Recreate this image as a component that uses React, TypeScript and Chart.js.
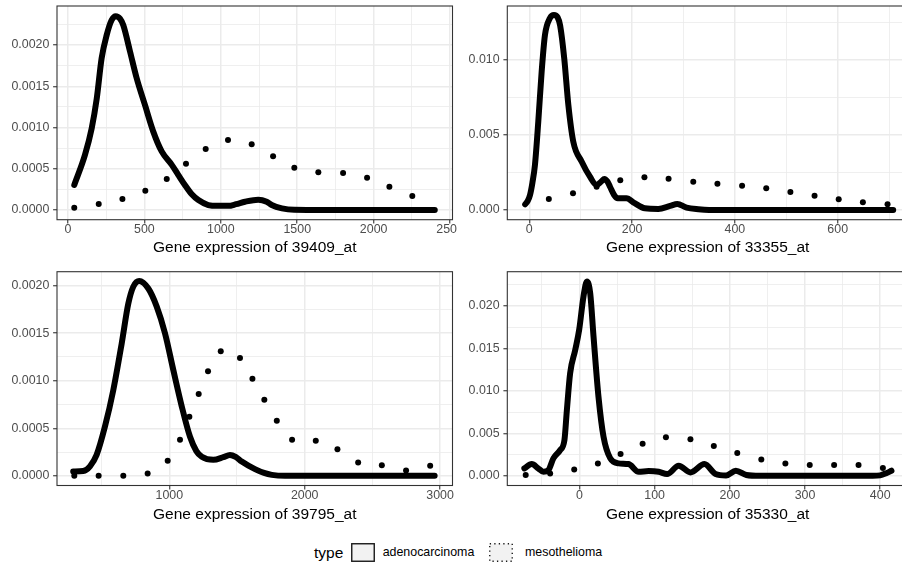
import React, { useEffect, useRef } from 'react';
import { Chart, registerables } from 'chart.js';
Chart.register(...registerables);

const FONT = '"Liberation Sans", Arial, Helvetica, sans-serif';

// ---------- Panel 1: 39409_at ----------
const p1Title = 'Gene expression of 39409_at';
const p1AdenoX = [41, 111, 155, 188, 220, 253, 285, 312, 340, 362, 406, 449, 504, 558, 613, 678, 720, 766, 810, 853, 918, 980, 1049, 1100, 1158, 1245, 1300, 1333, 1400, 1480, 1600, 2000, 2400];
const p1AdenoY = [0.000303, 0.000667, 0.00099, 0.00135, 0.00184, 0.00212, 0.0023, 0.00235, 0.00232, 0.00224, 0.00192, 0.0016, 0.00127, 0.00095, 0.00071, 0.00055, 0.00043, 0.0003, 0.00019, 0.00012, 0.00006, 0.00005, 0.00005, 0.00007, 0.0001, 0.000125, 0.0001, 0.00006, 0.00002, 0.000002, 0, 0, 0];
const p1MesoX = [41, 201, 356, 506, 646, 772, 901, 1047, 1202, 1342, 1481, 1638, 1800, 1957, 2103, 2253];
const p1MesoY = [0.000028, 0.000073, 0.000133, 0.000234, 0.000376, 0.000562, 0.00074, 0.000848, 0.000796, 0.00065, 0.000513, 0.000457, 0.000448, 0.000392, 0.000282, 0.00017];
const p1XTicks = [0, 500, 1000, 1500, 2000, 2500];
const p1XLabels = ['0', '500', '1000', '1500', '2000', '2500'];
const p1XMinor = [250, 750, 1250, 1750, 2250];
const p1YTicks = [0, 0.0005, 0.001, 0.0015, 0.002];
const p1YLabels = ['0.0000', '0.0005', '0.0010', '0.0015', '0.0020'];
const p1YMinor = [0.00025, 0.00075, 0.00125, 0.00175, 0.00225];

// ---------- Panel 2: 33355_at ----------
const p2Title = 'Gene expression of 33355_at';
const p2AdenoX = [-8, -3, 1.4, 6, 11, 17.5, 24, 30.5, 40, 48, 55, 60, 68, 76, 85.6, 102, 118, 131, 140, 146, 152, 157, 165, 172, 189, 205, 225, 251, 274, 288, 306, 329, 350, 400, 708];
const p2AdenoY = [0.00038, 0.0006, 0.001, 0.0018, 0.003, 0.0059, 0.0092, 0.01167, 0.01278, 0.013, 0.01285, 0.0123, 0.0101, 0.007, 0.00455, 0.00322, 0.00222, 0.00167, 0.0019, 0.00207, 0.0019, 0.00155, 0.001, 0.00078, 0.00078, 0.00045, 0.00011, 0.00007, 0.00027, 0.0004, 0.00016, 0.00005, 0.000005, 0, 0];
const p2MesoX = [38, 85, 131, 177, 224, 271, 319, 366, 414, 461, 508, 555, 602, 649, 697];
const p2MesoY = [0.00073, 0.00111, 0.00155, 0.00198, 0.00218, 0.00209, 0.00189, 0.00175, 0.00162, 0.00145, 0.0012, 0.00095, 0.00071, 0.00051, 0.00038];
const p2XTicks = [0, 200, 400, 600];
const p2XLabels = ['0', '200', '400', '600'];
const p2XMinor = [100, 300, 500, 700];
const p2YTicks = [0, 0.005, 0.01];
const p2YLabels = ['0.000', '0.005', '0.010'];
const p2YMinor = [0.0025, 0.0075, 0.0125];

// ---------- Panel 3: 39795_at ----------
const p3Title = 'Gene expression of 39795_at';
const p3AdenoX = [290, 364, 414, 463, 525, 586, 648, 697, 734, 778, 845, 907, 968, 1030, 1092, 1153, 1200, 1240, 1325, 1399, 1448, 1490, 1535, 1633, 1700, 1757, 1855, 2500, 2960];
const p3AdenoY = [0.000045, 0.00005, 0.0001, 0.00022, 0.00052, 0.0009, 0.00139, 0.00181, 0.00199, 0.00205, 0.00197, 0.00178, 0.0015, 0.00111, 0.00073, 0.00041, 0.00026, 0.0002, 0.000168, 0.000196, 0.00022, 0.0002, 0.00015, 0.00007, 0.00003, 0.00001, 0, 0, 0];
const p3MesoX = [298, 478, 660, 840, 988, 1079, 1148, 1217, 1286, 1380, 1522, 1614, 1702, 1794, 1907, 2082, 2242, 2395, 2570, 2749, 2927];
const p3MesoY = [0, 0, 0, 0.000024, 0.000158, 0.00038, 0.00062, 0.00086, 0.0011, 0.00131, 0.00124, 0.00102, 0.0008, 0.00058, 0.00038, 0.00037, 0.00028, 0.00014, 0.00011, 0.000056, 0.000105];
const p3XTicks = [1000, 2000, 3000];
const p3XLabels = ['1000', '2000', '3000'];
const p3XMinor = [500, 1500, 2500];
const p3YTicks = [0, 0.0005, 0.001, 0.0015, 0.002];
const p3YLabels = ['0.0000', '0.0005', '0.0010', '0.0015', '0.0020'];
const p3YMinor = [0.00025, 0.00075, 0.00125, 0.00175];

// ---------- Panel 4: 35330_at ----------
const p4Title = 'Gene expression of 35330_at';
const p4AdenoX = [-73.3, -63.5, -54.7, -48, -41.3, -34.7, -25.7, -20, -16.8, -12.4, -5.7, -0.4, 5.3, 9.9, 14.3, 18.7, 25.3, 32, 41, 52, 65.3, 78.7, 92, 105.3, 116.5, 132, 147.6, 166.3, 181, 195, 208, 222, 240, 390, 400, 408, 415];
const p4AdenoY = [0.00087, 0.00138, 0.00087, 0.00047, 0.00067, 0.00205, 0.00303, 0.0042, 0.0077, 0.0121, 0.0148, 0.0172, 0.0211, 0.0229, 0.0215, 0.0164, 0.0093, 0.0046, 0.00205, 0.00146, 0.00138, 0.00047, 0.00055, 0.00047, 0.0002, 0.00118, 0.0004, 0.00138, 0.0002, 0.00003, 0.0006, 0.0001, 0, 0, 0.00005, 0.0003, 0.0006];
const p4MesoX = [-71.5, -39, -7, 24.5, 54.7, 84, 115, 147.6, 178.7, 209.9, 241.9, 273.9, 306.3, 338.7, 371.2, 403.6];
const p4MesoY = [0.00008, 0.00028, 0.00075, 0.00146, 0.00256, 0.00377, 0.00453, 0.00429, 0.0035, 0.00268, 0.00193, 0.00146, 0.00126, 0.00126, 0.00126, 0.00091];
const p4XTicks = [0, 100, 200, 300, 400];
const p4XLabels = ['0', '100', '200', '300', '400'];
const p4XMinor = [-50, 50, 150, 250, 350];
const p4YTicks = [0, 0.005, 0.01, 0.015, 0.02];
const p4YLabels = ['0.000', '0.005', '0.010', '0.015', '0.020'];
const p4YMinor = [0.0025, 0.0075, 0.0125, 0.0175, 0.0225];

const legendTitle = 'type';
const legendLabels = ['adenocarcinoma', 'mesothelioma'];

type Panel = {
  title: string;
  adenoX: number[]; adenoY: number[]; mesoX: number[]; mesoY: number[];
  xTicks: number[]; xLabels: string[]; xMinor: number[];
  yTicks: number[]; yLabels: string[]; yMinor: number[];
  xMin: number; xMax: number; yMin: number; yMax: number;
  box: { left: number; top: number; w: number; h: number };
  padTop: number; padRight: number; yW: number; xH: number; titlePB: number;
};

const panels: Panel[] = [
  {
    title: p1Title, adenoX: p1AdenoX, adenoY: p1AdenoY, mesoX: p1MesoX, mesoY: p1MesoY,
    xTicks: p1XTicks, xLabels: p1XLabels, xMinor: p1XMinor, yTicks: p1YTicks, yLabels: p1YLabels, yMinor: p1YMinor,
    xMin: -72, xMax: 2516, yMin: -0.0001178, yMax: 0.002473,
    box: { left: 0, top: 0, w: 457, h: 260 }, padTop: 6, padRight: 4.5, yW: 57, xH: 40.3, titlePB: 2.7,
  },
  {
    title: p2Title, adenoX: p2AdenoX, adenoY: p2AdenoY, mesoX: p2MesoX, mesoY: p2MesoY,
    xTicks: p2XTicks, xLabels: p2XLabels, xMinor: p2XMinor, yTicks: p2YTicks, yLabels: p2YLabels, yMinor: p2YMinor,
    xMin: -42.8, xMax: 736.8, yMin: -0.000648, yMax: 0.0136,
    box: { left: 457, top: 0, w: 459, h: 260 }, padTop: 6, padRight: 8, yW: 50.3, xH: 40.3, titlePB: 2.7,
  },
  {
    title: p3Title, adenoX: p3AdenoX, adenoY: p3AdenoY, mesoX: p3MesoX, mesoY: p3MesoY,
    xTicks: p3XTicks, xLabels: p3XLabels, xMinor: p3XMinor, yTicks: p3YTicks, yLabels: p3YLabels, yMinor: p3YMinor,
    xMin: 170.3, xMax: 3092, yMin: -0.000102, yMax: 0.002147,
    box: { left: 0, top: 260, w: 457, h: 270 }, padTop: 11.7, padRight: 4.5, yW: 57, xH: 44.5, titlePB: 5.7,
  },
  {
    title: p4Title, adenoX: p4AdenoX, adenoY: p4AdenoY, mesoX: p4MesoX, mesoY: p4MesoY,
    xTicks: p4XTicks, xLabels: p4XLabels, xMinor: p4XMinor, yTicks: p4YTicks, yLabels: p4YLabels, yMinor: p4YMinor,
    xMin: -96, xMax: 437, yMin: -0.001145, yMax: 0.024043,
    box: { left: 457, top: 260, w: 459, h: 270 }, padTop: 11.7, padRight: 8, yW: 50.3, xH: 44.5, titlePB: 5.7,
  },
];

const near = (arr: number[], v: number) => arr.findIndex((t) => Math.abs(t - v) < 1e-9);

const borderPlugin = {
  id: 'panelBorder',
  afterDraw(chart: any) {
    const { ctx, chartArea: a } = chart;
    ctx.save();
    ctx.strokeStyle = '#333333';
    ctx.lineWidth = 1.1;
    ctx.strokeRect(a.left, a.top, a.right - a.left, a.bottom - a.top);
    ctx.restore();
  },
};

function axis(p: Panel, dir: 'x' | 'y') {
  const majors = dir === 'x' ? p.xTicks : p.yTicks;
  const minors = dir === 'x' ? p.xMinor : p.yMinor;
  const labels = dir === 'x' ? p.xLabels : p.yLabels;
  const all = [...majors, ...minors].sort((a, b) => a - b);
  const isMaj = (ctx: any) => ctx.tick && near(majors, ctx.tick.value) >= 0;
  return {
    type: 'linear',
    position: dir === 'x' ? 'bottom' : 'left',
    min: dir === 'x' ? p.xMin : p.yMin,
    max: dir === 'x' ? p.xMax : p.yMax,
    afterBuildTicks: (scale: any) => {
      scale.ticks = all.map((v) => ({ value: v }));
    },
    afterFit: (scale: any) => {
      if (dir === 'x') {
        scale.height = p.xH;
        scale.paddingLeft = 0;
        scale.paddingRight = 0;
      } else {
        scale.width = p.yW;
        scale.paddingTop = 0;
        scale.paddingBottom = 0;
      }
    },
    grid: {
      color: '#EBEBEB',
      lineWidth: (ctx: any) => (isMaj(ctx) ? 1.5 : 0.8),
      tickColor: (ctx: any) => (isMaj(ctx) ? '#333333' : 'rgba(0,0,0,0)'),
      tickLength: 3.9,
      tickWidth: 1.1,
      drawTicks: true,
    },
    border: { display: false },
    ticks: {
      autoSkip: false,
      maxRotation: 0,
      minRotation: 0,
      padding: dir === 'x' ? 0 : 3.8,
      color: '#4D4D4D',
      font: { family: FONT, size: 12.4, lineHeight: 1 },
      callback: (v: number) => {
        const i = near(majors, v);
        return i >= 0 ? labels[i] : '';
      },
    },
    title: dir === 'x'
      ? {
          display: true,
          text: p.title,
          color: '#000000',
          font: { family: FONT, size: 15.5, lineHeight: 1.2 },
          padding: { top: 0, bottom: p.titlePB },
        }
      : { display: false },
  };
}

function PanelChart({ p }: { p: Panel }) {
  const ref = useRef<HTMLCanvasElement | null>(null);
  useEffect(() => {
    if (!ref.current) return;
    const chart = new Chart(ref.current, {
      type: 'scatter',
      data: {
        datasets: [
          {
            label: legendLabels[0],
            data: p.adenoX.map((x, i) => ({ x, y: p.adenoY[i] })),
            showLine: true,
            borderColor: '#000000',
            backgroundColor: '#000000',
            borderWidth: 6,
            pointRadius: 0,
            cubicInterpolationMode: 'monotone',
            borderCapStyle: 'round',
            borderJoinStyle: 'round',
            fill: false,
          },
          {
            label: legendLabels[1],
            data: p.mesoX.map((x, i) => ({ x, y: p.mesoY[i] })),
            showLine: false,
            pointRadius: 3,
            pointBorderWidth: 0,
            pointBackgroundColor: '#000000',
            backgroundColor: '#000000',
            borderColor: '#000000',
          },
        ],
      } as any,
      options: {
        animation: false,
        responsive: false,
        devicePixelRatio: 1,
        events: [],
        layout: { padding: { left: 0, top: p.padTop, right: p.padRight, bottom: 0 } },
        plugins: { legend: { display: false }, tooltip: { enabled: false } },
        scales: { x: axis(p, 'x'), y: axis(p, 'y') } as any,
      },
      plugins: [borderPlugin],
    });
    return () => chart.destroy();
  }, [p]);
  return (
    <canvas
      ref={ref}
      width={p.box.w}
      height={p.box.h}
      style={{ position: 'absolute', left: p.box.left, top: p.box.top, width: p.box.w, height: p.box.h }}
    />
  );
}

function KeyBox({ left, dotted }: { left: number; dotted: boolean }) {
  return (
    <svg width={24} height={19} style={{ position: 'absolute', left, top: 543 }}>
      <rect
        x={0.75}
        y={0.75}
        width={22.5}
        height={17.5}
        fill="#F2F2F2"
        stroke="#1A1A1A"
        strokeWidth={1.4}
        strokeDasharray={dotted ? '1.3 3.2' : undefined}
      />
    </svg>
  );
}

export default function App() {
  const textStyle = (size: number, left: number, top: number, h: number): React.CSSProperties => ({
    position: 'absolute',
    left,
    top,
    height: h,
    lineHeight: h + 'px',
    fontFamily: FONT,
    fontSize: size,
    color: '#000000',
    whiteSpace: 'nowrap',
  });
  return (
    <div style={{ position: 'absolute', left: 0, top: 0, width: 902, height: 569, overflow: 'hidden', background: '#FFFFFF' }}>
      {panels.map((p, i) => (
        <PanelChart key={i} p={p} />
      ))}
      <div style={textStyle(15.5, 314, 540.6, 24)}>{legendTitle}</div>
      <KeyBox left={351} dotted={false} />
      <div style={textStyle(12.4, 382.7, 542.4, 20)}>{legendLabels[0]}</div>
      <KeyBox left={489.3} dotted={true} />
      <div style={textStyle(12.4, 525, 542.4, 20)}>{legendLabels[1]}</div>
    </div>
  );
}
